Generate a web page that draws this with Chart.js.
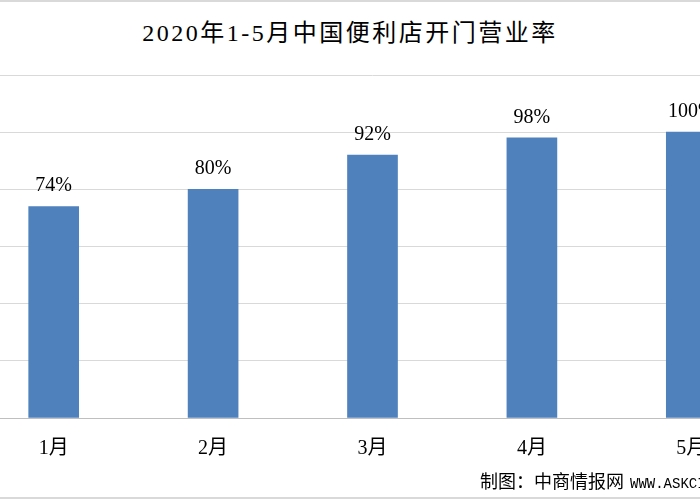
<!DOCTYPE html>
<html lang="zh-CN">
<head>
    <meta charset="UTF-8">
    <title>2020年1-5月中国便利店开门营业率</title>
    <script src="https://cdn.jsdelivr.net/npm/chart.js"></script>
    <style>
        html, body {
            margin: 0;
            padding: 0;
            background: #ffffff;
        }

        .page {
            position: relative;
            width: 700px;
            height: 500px;
            overflow: hidden;
            background: #ffffff;
        }

        /* thin frame lines top and bottom */
        .frame-top, .frame-bottom {
            position: absolute;
            left: 0;
            width: 700px;
            height: 2px;
            background: #d9d9d9;
        }
        .frame-top { top: 0; }
        .frame-bottom { top: 497px; }

        .chart-title {
            position: absolute;
            top: 17px;
            left: 0;
            width: 700px;
            text-align: center;
            font-family: 'Liberation Serif', 'Noto Sans CJK SC', serif;
            font-size: 24px;
            line-height: 32px;
            letter-spacing: 2.5px;
            color: #000;
        }

        .chart-box {
            position: absolute;
            left: -26px;
            top: 0;
            width: 797px;
            height: 500px;
        }

        .source {
            position: absolute;
            left: 480px;
            top: 468px;
            white-space: nowrap;
            font-family: 'Noto Sans CJK SC', sans-serif;
            font-size: 18px;
            line-height: 24px;
            font-weight: 400;
            color: #000;
        }

        .source .url {
            margin-left: 6px;
            font-family: 'Liberation Mono', monospace;
            font-size: 14px;
        }
    </style>
</head>
<body>
    <div class="page">
        <div class="frame-top"></div>
        <div class="chart-title">2020年1-5月中国便利店开门营业率</div>
        <div class="chart-box">
            <canvas id="rate-chart"></canvas>
        </div>
        <div class="source">制图：中商情报网<span class="url">WWW.ASKCI.COM</span></div>
        <div class="frame-bottom"></div>
    </div>

    <script>
        // Data
        const months = ['1月', '2月', '3月', '4月', '5月'];
        const openRate = [74, 80, 92, 98, 100];
        const yTicks = [0, 20, 40, 60, 80, 100, 120];

        const barColor = '#4f81bd';

        // Draw the % value above every bar
        const valueLabels = {
            id: 'valueLabels',
            afterDatasetsDraw(chart) {
                const ctx = chart.ctx;
                const meta = chart.getDatasetMeta(0);
                ctx.save();
                ctx.font = '20px "Liberation Serif", serif';
                ctx.fillStyle = '#000';
                ctx.textAlign = 'center';
                ctx.textBaseline = 'alphabetic';
                meta.data.forEach((bar, i) => {
                    ctx.fillText(openRate[i] + '%', bar.x, bar.y - 15);
                });
                ctx.restore();
            }
        };

        const rateChart = new Chart(document.getElementById('rate-chart'), {
            type: 'bar',
            data: {
                labels: months,
                datasets: [{
                    label: '开门营业率',
                    data: openRate,
                    backgroundColor: barColor,
                    borderWidth: 0,
                    barThickness: 50
                }]
            },
            options: {
                responsive: true,
                maintainAspectRatio: false,
                animation: false,
                layout: {
                    padding: { top: 75, left: 0, right: 0, bottom: 0 }
                },
                plugins: {
                    legend: { display: false },
                    tooltip: { enabled: false },
                    title: { display: false }
                },
                scales: {
                    x: {
                        grid: { display: false, drawTicks: false },
                        border: { display: true, color: '#bfbfbf', width: 1 },
                        ticks: {
                            color: '#000',
                            padding: 19,
                            font: { family: "'Liberation Serif', 'Noto Sans CJK SC', serif", size: 20 }
                        },
                        afterFit(scale) { scale.height = 82; }
                    },
                    y: {
                        min: yTicks[0],
                        max: yTicks[yTicks.length - 1],
                        afterBuildTicks(scale) {
                            scale.ticks = yTicks.map(v => ({ value: v }));
                        },
                        grid: { color: '#d9d9d9', drawTicks: false },
                        border: { display: false },
                        ticks: { display: false },
                        afterFit(scale) { scale.width = 0; }
                    }
                }
            },
            plugins: [valueLabels]
        });
    </script>
</body>
</html>
